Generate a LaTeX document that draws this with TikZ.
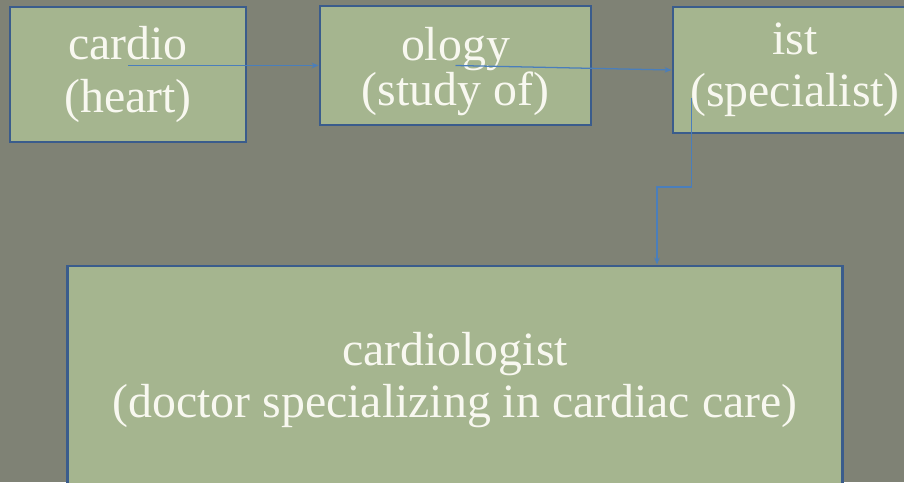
\documentclass[tikz,border=0pt]{standalone}
\usepackage{fontspec}
\setmainfont{Liberation Serif}
\usetikzlibrary{calc,arrows.meta}
\definecolor{slate}{RGB}{127,130,117}
\definecolor{sage}{RGB}{165,181,143}
\definecolor{edge}{RGB}{58,92,140}
\definecolor{wire}{RGB}{74,126,187}
\definecolor{chalk}{RGB}{248,248,240}
\begin{document}
\begin{tikzpicture}[x=0.025cm, y=-0.025cm,
        part/.style={rectangle, draw=edge, line width=2pt, fill=sage, text=chalk, align=center, inner sep=0pt, font=\fontsize{34}{37}\selectfont},
        link/.style={-{Stealth[length=5pt,width=4pt]}, draw=wire, line width=0.9pt}
    ]
        \clip (0,0) rectangle (904,482);
        \fill[slate] (0,0) rectangle (904,482);

        % Word parts
        \node[part, minimum width=5.9cm, minimum height=3.375cm] (cardio) at (128,74.5) {cardio\\(heart)};
        \node[part, minimum width=6.775cm, minimum height=2.975cm, font=\fontsize{34}{32}\selectfont] (ology) at (455.5,65.5) {\rule{0pt}{32pt}ology\\(study of)};
        \node[part, minimum width=6.1cm, minimum height=3.15cm] (ist) at (795,70) {ist\\(specialist)};

        % Whole word
        \node[part, minimum width=19.35cm, minimum height=5.7cm] (word) at (455,380) {cardiologist\\(doctor specializing in cardiac care)};

        \draw[link] (cardio.center |- ology.west) -- (ology.west);
        \draw[link] (ology.center) -- (ist.west);

        \coordinate (down) at ($(ist.south west)+(20,-36)$);
        \coordinate (turn) at (657,187);
        \draw[link] (down) |- (turn) -- (turn |- word.north);
    \end{tikzpicture}
\end{document}
